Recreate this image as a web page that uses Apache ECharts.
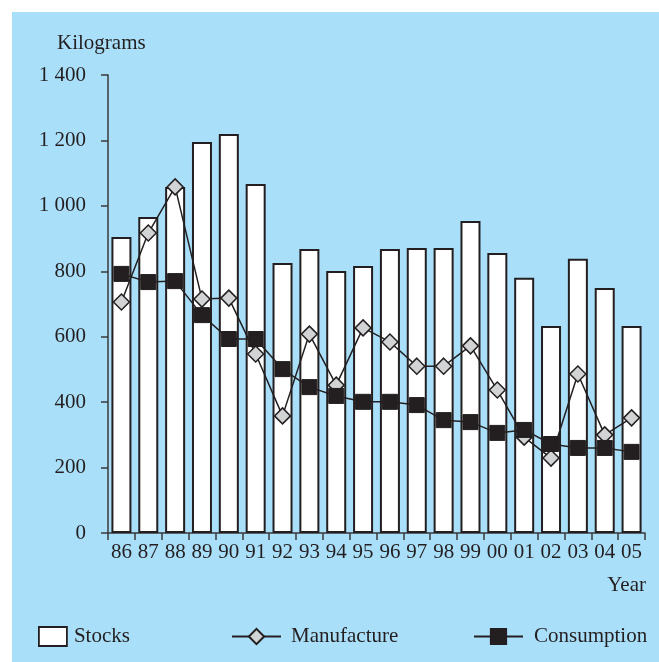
<!DOCTYPE html>
<html>
<head>
<meta charset="utf-8">
<script src="https://cdn.jsdelivr.net/npm/echarts@6/dist/echarts.min.js"></script>
<style>
html,body{margin:0;padding:0;background:#ffffff;width:659px;height:662px;overflow:hidden;}
#chart{position:absolute;left:12px;top:12px;width:647px;height:650px;}
</style>
</head>
<body>
<div id="chart"></div>
<script>
const years = ['86','87','88','89','90','91','92','93','94','95','96','97','98','99','00','01','02','03','04','05'];
const stocks = [905, 966, 1058, 1195, 1220, 1067, 825, 868, 801, 816, 868, 871, 871, 954, 856, 780, 633, 838, 749, 633];
const manufacture = [706, 917, 1058, 715, 718, 547, 358, 608, 452, 627, 584, 510, 510, 572, 437, 293, 229, 486, 300, 352];
const consumption = [792, 767, 770, 666, 593, 593, 501, 446, 419, 401, 401, 391, 345, 339, 306, 315, 272, 260, 260, 248];
const yTicks = [0, 200, 400, 600, 800, 1000, 1200, 1400];

const ink = '#231f20';
const font = 'Liberation Serif';
const fs = 21;

function fmt(v){
  if (v >= 1000) { return Math.floor(v/1000) + ' ' + String(v % 1000).padStart(3,'0'); }
  return String(v);
}

const chart = echarts.init(document.getElementById('chart'), null, {renderer:'canvas'});
chart.setOption({
  backgroundColor: '#aadffa',
  animation: false,
  grid: {left: 96, right: 14, top: 63, bottom: 129, containLabel: false},
  xAxis: {
    type: 'category',
    data: years,
    boundaryGap: true,
    axisLine: {show: true, lineStyle: {color: '#3a3a3a', width: 1.5}},
    axisTick: {show: true, alignWithLabel: false, length: 7, lineStyle: {color: '#3a3a3a', width: 1.5}},
    axisLabel: {interval: 0, margin: 9, color: ink, fontFamily: font, fontSize: fs}
  },
  yAxis: {
    type: 'value',
    min: yTicks[0], max: yTicks[yTicks.length-1], interval: 200,
    axisLine: {show: true, lineStyle: {color: '#3a3a3a', width: 1.5}},
    axisTick: {show: true, inside: false, length: 7, lineStyle: {color: '#3a3a3a', width: 1.5}},
    splitLine: {show: false},
    axisLabel: {margin: 22, color: ink, fontFamily: font, fontSize: fs, formatter: fmt}
  },
  legend: [
    {data: [{name: 'Stocks', icon: 'rect'}], left: 21, top: 609, itemWidth: 28, itemHeight: 19, itemGap: 0,
     itemStyle: {color: '#ffffff', borderColor: ink, borderWidth: 1.8},
     textStyle: {color: ink, fontFamily: font, fontSize: fs, padding: [0,0,0,2]}},
    {data: ['Manufacture'], left: 214, top: 609, itemWidth: 49, itemHeight: 19, itemGap: 0,
     textStyle: {color: ink, fontFamily: font, fontSize: fs, padding: [0,0,0,5]}},
    {data: ['Consumption'], left: 456, top: 609, itemWidth: 49, itemHeight: 19, itemGap: 0,
     textStyle: {color: ink, fontFamily: font, fontSize: fs, padding: [0,0,0,6]}}
  ],
  graphic: [
    {type: 'text', left: 45, top: 21, style: {text: 'Kilograms', fill: ink, font: fs + 'px "' + font + '"'}},
    {type: 'text', right: 13, top: 563, style: {text: 'Year', fill: ink, font: fs + 'px "' + font + '"'}}
  ],
  series: [
    {
      name: 'Stocks', type: 'bar', data: stocks, barWidth: 20,
      itemStyle: {color: '#ffffff', borderColor: ink, borderWidth: 2},
      emphasis: {disabled: true}
    },
    {
      name: 'Manufacture', type: 'line', data: manufacture,
      symbol: 'diamond', symbolSize: 16,
      lineStyle: {color: ink, width: 1.5},
      itemStyle: {color: '#d1d3d4', borderColor: ink, borderWidth: 1.5},
      emphasis: {disabled: true}
    },
    {
      name: 'Consumption', type: 'line', data: consumption,
      symbol: 'rect', symbolSize: 15,
      lineStyle: {color: ink, width: 1.5},
      itemStyle: {color: ink, borderColor: ink, borderWidth: 1},
      emphasis: {disabled: true}
    }
  ]
});
</script>
</body>
</html>
